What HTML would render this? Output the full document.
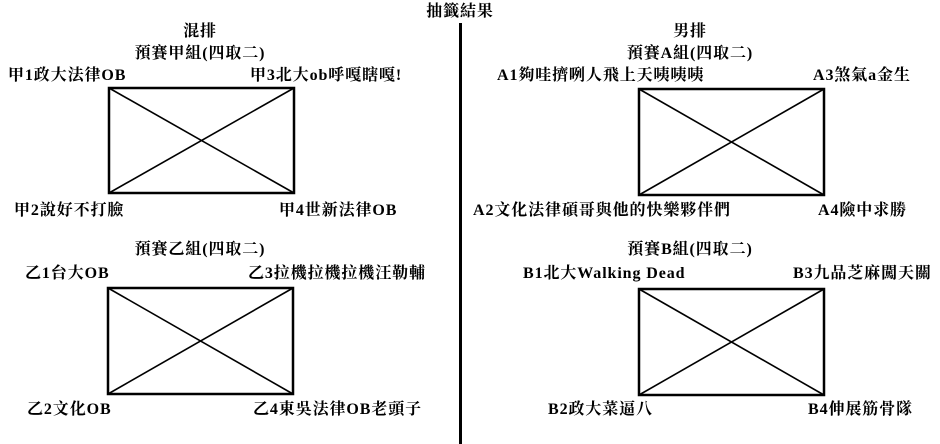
<!DOCTYPE html>
<html><head><meta charset="utf-8"><style>
html,body{margin:0;padding:0;background:#fff;}
body{width:940px;height:444px;position:relative;overflow:hidden;font-family:"Liberation Serif","Noto Serif CJK SC","Noto Sans CJK TC",serif;font-weight:bold;font-size:16px;color:#000;}
.t{position:absolute;line-height:20px;white-space:nowrap;letter-spacing:0.9px;}
.c{transform:translateX(-50%);}
svg{position:absolute;left:0;top:0;}
</style></head><body>
<svg width="940" height="444">
<rect x="459" y="23" width="3" height="421" fill="#000"/>
<g stroke="#000" fill="none">
<rect x="109" y="88" width="185" height="105" stroke-width="2.5"/>
<line x1="109" y1="88" x2="294" y2="193" stroke-width="1.6"/>
<line x1="109" y1="193" x2="294" y2="88" stroke-width="1.6"/>
<rect x="108" y="288" width="185" height="106" stroke-width="2.5"/>
<line x1="108" y1="288" x2="293" y2="394" stroke-width="1.6"/>
<line x1="108" y1="394" x2="293" y2="288" stroke-width="1.6"/>
<rect x="639" y="89" width="185" height="106" stroke-width="2.5"/>
<line x1="639" y1="89" x2="824" y2="195" stroke-width="1.6"/>
<line x1="639" y1="195" x2="824" y2="89" stroke-width="1.6"/>
<rect x="639" y="289" width="185" height="106" stroke-width="2.5"/>
<line x1="639" y1="289" x2="824" y2="395" stroke-width="1.6"/>
<line x1="639" y1="395" x2="824" y2="289" stroke-width="1.6"/>
</g>
</svg>
<div class="t c" style="left:460px;top:2px">抽籤結果</div>

<div class="t c" style="left:200px;top:22px">混排</div>
<div class="t c" style="left:200px;top:44px">預賽甲組(四取二)</div>
<div class="t" style="left:8px;top:66px">甲1政大法律OB</div>
<div class="t" style="left:250px;top:66px">甲3北大ob呼嘎瞎嘎!</div>
<div class="t" style="left:14px;top:201px">甲2說好不打臉</div>
<div class="t" style="left:279px;top:201px">甲4世新法律OB</div>

<div class="t c" style="left:200px;top:240px">預賽乙組(四取二)</div>
<div class="t" style="left:25px;top:264px">乙1台大OB</div>
<div class="t" style="left:248px;top:264px">乙3拉機拉機拉機汪勒輔</div>
<div class="t" style="left:27px;top:400px">乙2文化OB</div>
<div class="t" style="left:253px;top:400px">乙4東吳法律OB老頭子</div>

<div class="t c" style="left:690px;top:22px">男排</div>
<div class="t c" style="left:690px;top:44px">預賽A組(四取二)</div>
<div class="t" style="left:497px;top:66px">A1夠哇擠咧人飛上天咦咦咦</div>
<div class="t" style="left:813px;top:66px">A3煞氣a金生</div>
<div class="t" style="left:473px;top:201px">A2文化法律碩哥與他的快樂夥伴們</div>
<div class="t" style="left:818px;top:201px">A4險中求勝</div>

<div class="t c" style="left:690px;top:240px">預賽B組(四取二)</div>
<div class="t" style="left:523px;top:264px">B1北大Walking Dead</div>
<div class="t" style="left:793px;top:264px">B3九品芝麻闖天關</div>
<div class="t" style="left:548px;top:400px">B2政大菜逼八</div>
<div class="t" style="left:808px;top:400px">B4伸展筋骨隊</div>
</body></html>
